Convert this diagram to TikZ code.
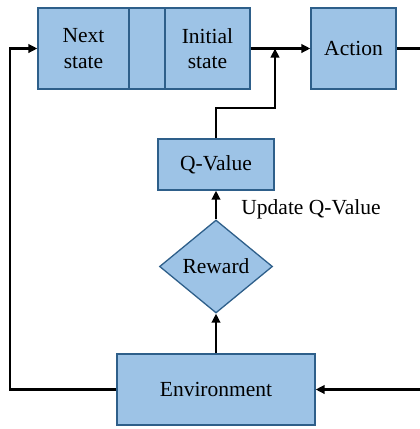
\documentclass[tikz,border=0pt]{standalone}
\usepackage{fontspec}
\setmainfont{Liberation Serif}
\usetikzlibrary{arrows.meta,shapes.geometric}
\definecolor{boxfill}{HTML}{9DC3E6}
\definecolor{boxline}{HTML}{2E5F8A}
\begin{document}
\begin{tikzpicture}[x=1pt,y=-1pt,
  box/.style={draw=boxline,fill=boxfill,line width=1.3pt,inner sep=0pt,
    font=\fontsize{21.5}{25.5}\selectfont,align=center},
  lbl/.style={font=\fontsize{21.5}{25.5}\selectfont,inner sep=0pt},
  conn/.style={line width=2.2pt,-{Triangle[length=9pt,width=8.5pt]}}]
\useasboundingbox (0,0) rectangle (420,429);
\node[box,minimum width=91pt,minimum height=81pt] (next) at (83.5,48.5) {Next\\state};
\node[box,minimum width=36pt,minimum height=81pt] (mid) at (147,48.5) {};
\node[box,minimum width=85pt,minimum height=81pt] (init) at (207.5,48.5) {Initial\\state};
\node[box,minimum width=85pt,minimum height=81pt] (action) at (353.5,48.5) {Action};
\node[box,minimum width=116pt,minimum height=51pt] (qv) at (216,164.5) {Q-Value};
\node[box,shape=diamond,aspect=1.215,minimum width=113pt,minimum height=93pt] (rew) at (216,266.5) {Reward};
\node[box,minimum width=198pt,minimum height=71pt] (env) at (216,389.5) {Environment};
\node[lbl] (upd) at (311,209) {Update Q-Value};
\coordinate (bend) at (216,108);
\coordinate (join) at (275,48.5);
\coordinate (lc) at (10,389.5);
\coordinate (lt) at (10,48.5);
\coordinate (rt) at (424,48.5);
\coordinate (rb) at (424,389.5);
\draw[conn] (init.east) -- (action.west);
\draw[conn] (qv.north) -- (bend) -| (join);
\draw[conn] (rew.north) -- (qv.south);
\draw[conn] (env.north) -- (rew.south);
\draw[conn] (env.west) -- (lc) -- (lt) -- (next.west);
\draw[conn] (action.east) -- (rt) -- (rb) -- (env.east);
\end{tikzpicture}
\end{document}
